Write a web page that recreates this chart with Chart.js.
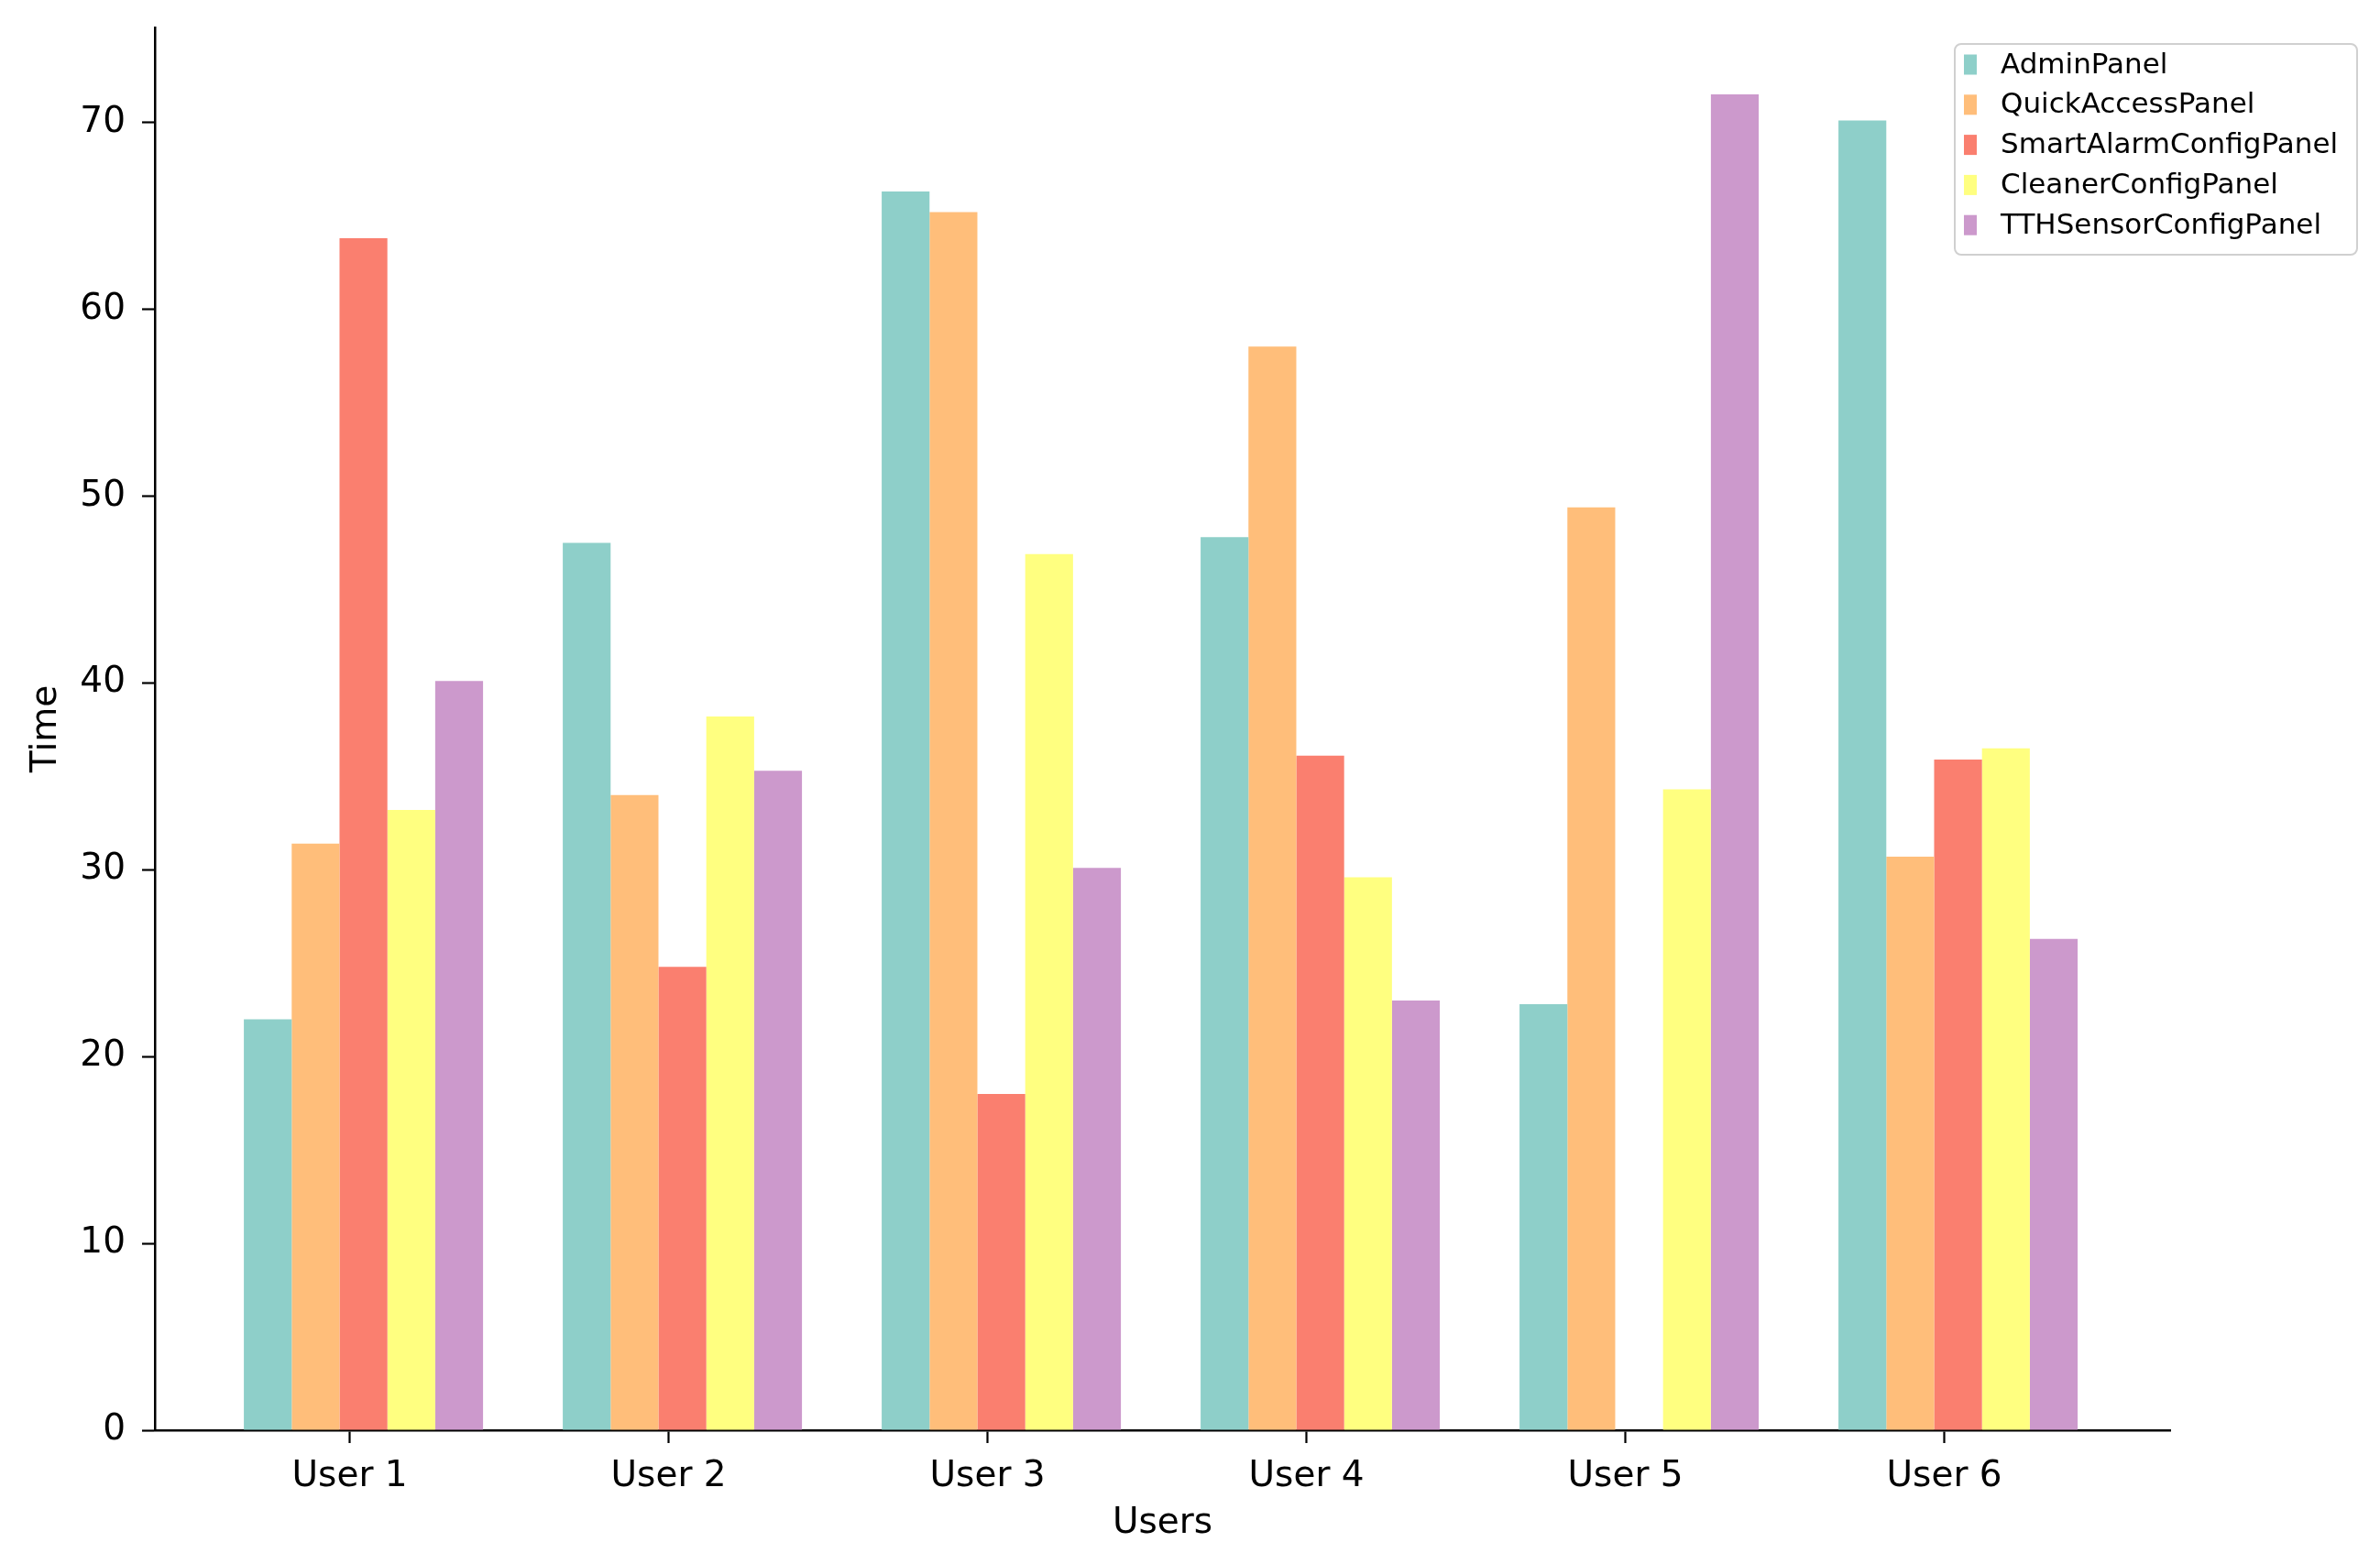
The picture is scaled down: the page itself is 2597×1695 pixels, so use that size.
<!DOCTYPE html>
<html><head><meta charset="utf-8">
<script src="https://cdn.jsdelivr.net/npm/chart.js@4.4.0/dist/chart.umd.min.js"></script>
<style>html,body{margin:0;padding:0;background:#fff;} canvas{display:block;}</style>
</head><body>
<canvas id="c" width="2597" height="1695" style="width:2597px;height:1695px"></canvas>
<script>
// ---- data ----
const categories = ['User 1', 'User 2', 'User 3', 'User 4', 'User 5', 'User 6'];
const seriesNames = ['AdminPanel', 'QuickAccessPanel', 'SmartAlarmConfigPanel', 'CleanerConfigPanel', 'TTHSensorConfigPanel'];
const adminPanel = [22.0, 47.5, 66.3, 47.8, 22.8, 70.1];
const quickAccessPanel = [31.4, 34.0, 65.2, 58.0, 49.4, 30.7];
const smartAlarmConfigPanel = [63.8, 24.8, 18.0, 36.1, 0, 35.9];
const cleanerConfigPanel = [33.2, 38.2, 46.9, 29.6, 34.3, 36.5];
const tthSensorConfigPanel = [40.1, 35.3, 30.1, 23.0, 71.5, 26.3];
const yTicks = [0, 10, 20, 30, 40, 50, 60, 70];
const xTitle = 'Users';
const yTitle = 'Time';

// ---- styling ----
const colors = ['#8ECFC9', '#FFBE7A', '#FA7F6F', '#FFFF80', '#CC99CC'];
const FONT = 'DejaVu Sans';
const GROUP_SHIFT = 0.043;
const allSeries = [adminPanel, quickAccessPanel, smartAlarmConfigPanel, cleanerConfigPanel, tthSensorConfigPanel];

const datasets = allSeries.map((vals, k) => ({
  label: seriesNames[k],
  data: vals.map((v, i) => ({ x: i + GROUP_SHIFT, y: v })),
  backgroundColor: colors[k],
  borderWidth: 0,
  categoryPercentage: 0.75,
  barPercentage: 1.0
}));

const legendPlugin = {
  id: 'customLegend',
  afterDraw(chart) {
    const ctx = chart.ctx;
    ctx.save();
    const x0 = 2133, y0 = 48, w = 439, h = 230, r = 7;
    ctx.beginPath();
    ctx.roundRect(x0, y0, w, h, r);
    ctx.fillStyle = 'rgba(255,255,255,0.8)';
    ctx.fill();
    ctx.strokeStyle = '#d0d0d0';
    ctx.lineWidth = 2;
    ctx.stroke();
    chart.data.datasets.forEach((ds, i) => {
      const cy = 70.5 + i * 43.8;
      ctx.fillStyle = ds.backgroundColor;
      ctx.fillRect(2143, cy - 11, 14, 22);
      ctx.fillStyle = '#000';
      ctx.font = '31px "' + FONT + '"';
      ctx.textBaseline = 'middle';
      ctx.textAlign = 'left';
      ctx.fillText(ds.label, 2183, cy + 1);
    });
    ctx.restore();
  }
};

const gridOpts = { display: true, drawOnChartArea: false, drawTicks: true, tickLength: 14, tickWidth: 2.2, tickColor: '#000', offset: false };
const borderOpts = { display: true, color: '#000', width: 2.5 };
const zeroPad = s => { s.paddingTop = 0; s.paddingBottom = 0; s.paddingLeft = 0; s.paddingRight = 0; };

new Chart(document.getElementById('c'), {
  type: 'bar',
  data: { datasets },
  plugins: [legendPlugin],
  options: {
    responsive: false,
    devicePixelRatio: 1,
    animation: false,
    layout: { padding: { top: 30, right: 229, left: 0, bottom: 0 } },
    plugins: { legend: { display: false }, tooltip: { enabled: false } },
    scales: {
      x: {
        type: 'linear',
        offset: false,
        min: -0.611,
        max: 5.708,
        afterBuildTicks: s => { s.ticks = categories.map((c, i) => ({ value: i })); },
        afterFit: s => { s.height = 134; zeroPad(s); },
        ticks: {
          callback: v => categories[v],
          font: { family: FONT, size: 39 },
          color: '#000',
          padding: 13,
          maxRotation: 0,
          autoSkip: false
        },
        grid: gridOpts,
        border: borderOpts,
        title: { display: true, text: xTitle, font: { family: FONT, size: 39 }, color: '#000', padding: { top: 0, bottom: 9 } }
      },
      y: {
        type: 'linear',
        min: 0,
        max: 75.08,
        afterBuildTicks: s => { s.ticks = yTicks.map(v => ({ value: v })); },
        afterFit: s => { s.width = 169; zeroPad(s); },
        ticks: { font: { family: FONT, size: 39 }, color: '#000', padding: 18 },
        grid: gridOpts,
        border: borderOpts,
        title: { display: true, text: yTitle, font: { family: FONT, size: 39 }, color: '#000', padding: { top: 27, bottom: 0 } }
      }
    }
  }
});
</script>
</body></html>
